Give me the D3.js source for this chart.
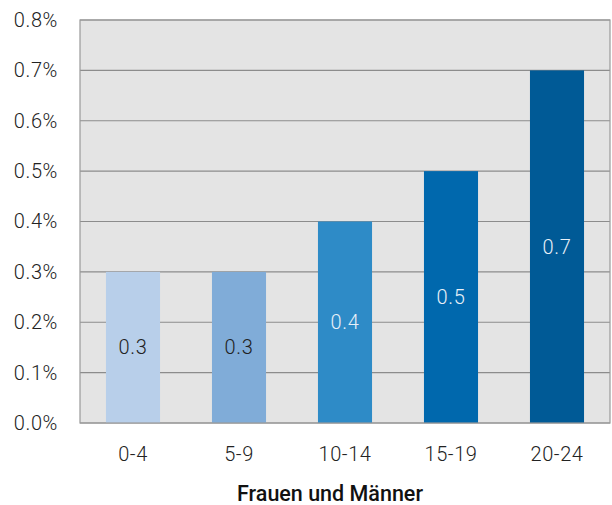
<!DOCTYPE html>
<html>
<head>
<meta charset="utf-8">
<script src="https://cdn.jsdelivr.net/npm/d3@7"></script>
<style>
  html, body { margin: 0; padding: 0; background: #fff; }
  svg { display: block; font-family: Roboto, "Noto Sans", sans-serif; }
</style>
</head>
<body>
<svg id="chart" width="612" height="505"></svg>
<script>
// Age groups and their shares (percent)
const categories = ["0-4", "5-9", "10-14", "15-19", "20-24"];
const values = [0.3, 0.3, 0.4, 0.5, 0.7];
const barColors = ["#b8cfea", "#80acd8", "#2e8bc7", "#0068ad", "#005a96"];
const labelColors = ["#222", "#222", "#e8f0f8", "#e8f0f8", "#e8f0f8"];
const yTicks = [0, 0.1, 0.2, 0.3, 0.4, 0.5, 0.6, 0.7, 0.8];
const xTitle = "Frauen und Männer";

const svg = d3.select("#chart");
const margin = { left: 80, top: 20, right: 2, bottom: 82 };
const W = 612, H = 505;

const x = d3.scaleBand()
  .domain(categories)
  .range([margin.left, W - margin.right])
  .paddingInner(0.49)
  .paddingOuter(0.245);

const y = d3.scaleLinear()
  .domain([0, 0.8])
  .range([H - margin.bottom, margin.top]);

// plot background
svg.append("rect")
  .attr("x", margin.left)
  .attr("y", margin.top)
  .attr("width", W - margin.right - margin.left)
  .attr("height", y(0) - margin.top)
  .attr("fill", "#e4e4e4");

// horizontal gridlines
svg.append("g")
  .selectAll("line")
  .data(yTicks)
  .join("line")
  .attr("x1", margin.left)
  .attr("x2", W - margin.right)
  .attr("y1", d => y(d))
  .attr("y2", d => y(d))
  .attr("stroke", "#8c8c8c")
  .attr("stroke-width", 1.2);

// bars
svg.append("g")
  .selectAll("rect")
  .data(values)
  .join("rect")
  .attr("x", (d, i) => x(categories[i]))
  .attr("width", x.bandwidth())
  .attr("y", d => y(d))
  .attr("height", d => y(0) - y(d))
  .attr("fill", (d, i) => barColors[i]);

// plot frame
svg.append("rect")
  .attr("x", margin.left)
  .attr("y", margin.top)
  .attr("width", W - margin.right - margin.left)
  .attr("height", y(0) - margin.top)
  .attr("fill", "none")
  .attr("stroke", "#999")
  .attr("stroke-width", 1.2);

// value labels
svg.append("g")
  .selectAll("text")
  .data(values)
  .join("text")
  .attr("x", (d, i) => x(categories[i]) + x.bandwidth() / 2)
  .attr("y", d => (y(d) + y(0)) / 2)
  .attr("dy", "0.35em")
  .attr("text-anchor", "middle")
  .attr("font-size", 20)
  .attr("font-weight", 300)
  .attr("letter-spacing", 0.6)
  .attr("fill", (d, i) => labelColors[i])
  .text(d => d.toFixed(1));

// y axis
const yAxis = d3.axisLeft(y)
  .tickValues(yTicks)
  .tickFormat(d => d.toFixed(1) + "%")
  .tickSize(0)
  .tickPadding(22);
svg.append("g")
  .attr("transform", `translate(${margin.left},0)`)
  .call(yAxis)
  .call(g => g.select(".domain").remove())
  .call(g => g.selectAll("text")
    .attr("font-family", "Roboto, sans-serif")
    .attr("font-size", 20)
    .attr("font-weight", 300)
    .attr("letter-spacing", 0.6)
    .attr("fill", "#222"));

// x axis
const xAxis = d3.axisBottom(x).tickSize(0).tickPadding(24);
svg.append("g")
  .attr("transform", `translate(0,${y(0)})`)
  .call(xAxis)
  .call(g => g.select(".domain").remove())
  .call(g => g.selectAll("text")
    .attr("font-family", "Roboto, sans-serif")
    .attr("font-size", 20)
    .attr("font-weight", 300)
    .attr("letter-spacing", 0.6)
    .attr("fill", "#222"));

// x axis title
svg.append("text")
  .attr("x", 330)
  .attr("y", 501)
  .attr("text-anchor", "middle")
  .attr("font-size", 21.5)
  .attr("font-weight", 500)
  .attr("fill", "#111")
  .text(xTitle);
</script>
</body>
</html>
